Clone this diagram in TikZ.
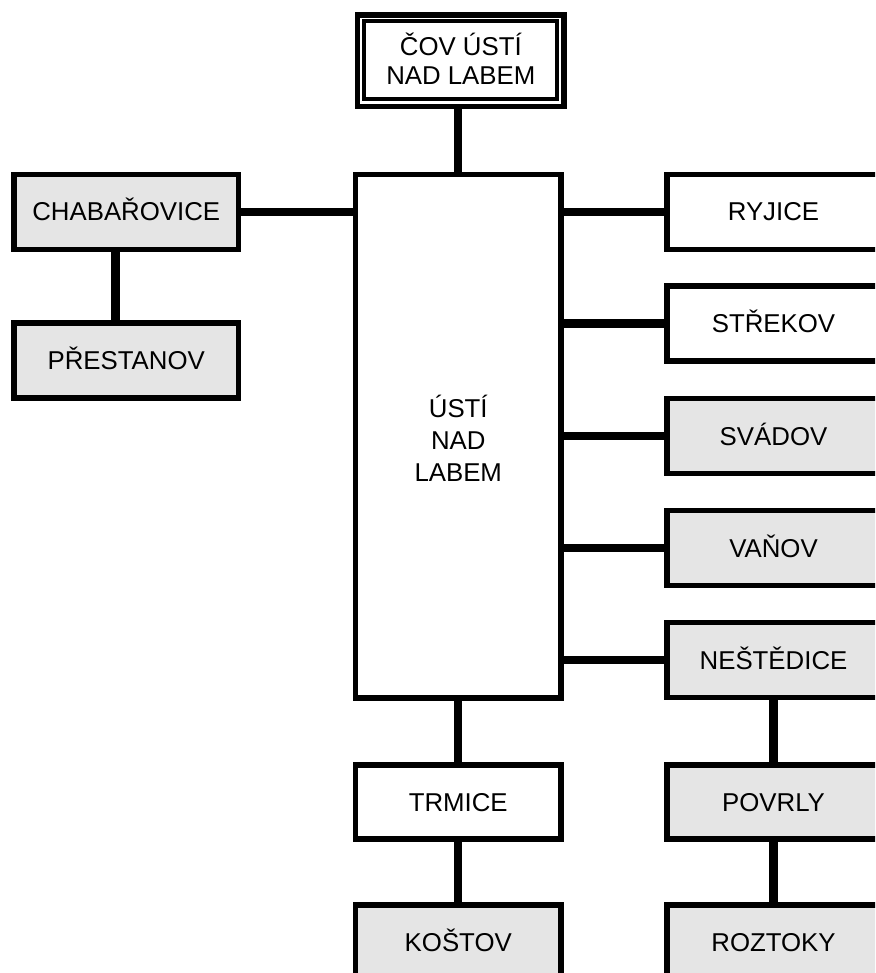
\documentclass[tikz,border=0pt]{standalone}
\usepackage{fontspec}
\setmainfont{Liberation Sans}
\begin{document}
\begin{tikzpicture}[x=1pt,y=-1pt,
  box/.style={draw=black,line width=5.3pt,rectangle,inner sep=0pt,outer sep=0pt,
    align=center,text height=18.5pt,text depth=0pt,
    font=\fontsize{25.8}{29.7}\selectfont},
  plain/.style={box,fill=white},
  shaded/.style={box,fill=black!10},
  conn/.style={draw=black,line width=8.3pt,line cap=butt},
  lbox/.style={minimum width=224.5pt,minimum height=75pt},
  rbox/.style={minimum width=213pt,minimum height=75pt},
  cbox/.style={minimum width=205.5pt,minimum height=74pt}]
\useasboundingbox (0,0) rectangle (875,973);
\fill[white] (0,0) rectangle (875,973);
\clip (0,0) rectangle (875,973);

% treatment plant at the top (double frame)
\node[plain,minimum width=206.5pt,minimum height=91.7pt,text height=48.2pt] (cov)
  at (460.8,60.8) {ČOV ÚSTÍ\\NAD LABEM};
\draw[line width=4pt] ([shift={(6.5,6.5)}]cov.north west)
  rectangle ([shift={(-7.5,-7.5)}]cov.south east);

% main city
\node[plain,minimum width=205.5pt,minimum height=523.5pt,
  font=\fontsize{25.8}{32}\selectfont,text height=90.5pt] (usti)
  at (458.25,436.25) {ÚSTÍ\\NAD\\LABEM};

% left branch
\node[shaded,lbox] (chab) at (126.25,211.75) {CHABAŘOVICE};
\node[shaded,lbox] (pres) at (126.25,360.5) {PŘESTANOV};

% right column
\node[plain,rbox] (ryj) at (773.5,211.75) {RYJICE};
\node[plain,rbox] (stre) at (773.5,323.5) {STŘEKOV};
\node[shaded,rbox] (svad) at (773.5,436) {SVÁDOV};
\node[shaded,rbox] (van) at (773.5,548) {VAŇOV};
\node[shaded,rbox] (nest) at (773.5,660) {NEŠTĚDICE};
\node[shaded,rbox,minimum height=74pt] (povr) at (773.5,802) {POVRLY};
\node[shaded,rbox,minimum height=74pt] (rozt) at (773.5,942) {ROZTOKY};

% below the main city
\node[plain,cbox] (trm) at (458.25,802) {TRMICE};
\node[shaded,cbox] (kost) at (458.25,942) {KOŠTOV};

% connectors
\coordinate (cpx) at (115.5,0);
\draw[conn] (cov.south -| usti.north) -- (usti.north);
\draw[conn] (chab.east) -- (usti.west |- chab.east);
\draw[conn] (chab.south -| cpx) -- (pres.north -| cpx);
\foreach \n in {ryj,stre,svad,van,nest}
  \draw[conn] (usti.east |- \n.west) -- (\n.west);
\draw[conn] (usti.south -| trm.north) -- (trm.north);
\draw[conn] (trm.south) -- (kost.north);
\draw[conn] (nest.south) -- (povr.north);
\draw[conn] (povr.south) -- (rozt.north);
\end{tikzpicture}
\end{document}
